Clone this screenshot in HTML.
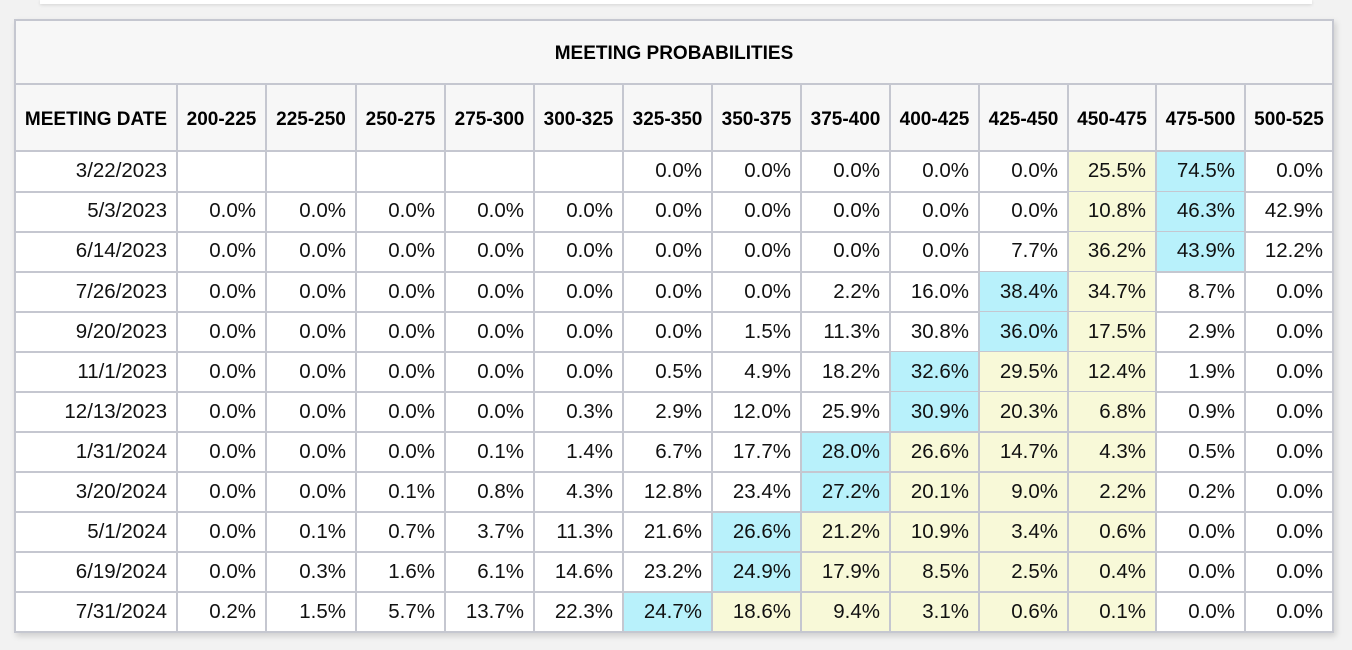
<!DOCTYPE html>
<html><head><meta charset="utf-8"><style>
body{margin:0;background:#f2f2f2;width:1352px;height:650px;overflow:hidden;font-family:"Liberation Sans",Arial,sans-serif;}
#shadow{position:absolute;left:40px;top:0;width:1272px;height:4px;background:#fff;box-shadow:0 1px 3px rgba(0,0,0,.12);}
#tbl{position:absolute;left:14px;top:19px;width:1320px;height:614px;background:#fff;box-shadow:2px 3px 6px rgba(0,0,0,.15);}
.c{position:absolute;box-sizing:border-box;border-right:2px solid #c5c7d0;border-bottom:2px solid #c5c7d0;display:flex;align-items:center;justify-content:flex-end;padding-right:9px;font-size:20.5px;color:#111;}
.h{background:#f7f7f7;font-weight:bold;font-size:19px;justify-content:center;padding:0;color:#000;}
</style></head><body>
<div id="shadow"></div>
<div id="tbl"></div>
<script>
const ranges=["200-225","225-250","250-275","275-300","300-325","325-350","350-375","375-400","400-425","425-450","450-475","475-500","500-525"];
const dates=["3/22/2023","5/3/2023","6/14/2023","7/26/2023","9/20/2023","11/1/2023","12/13/2023","1/31/2024","3/20/2024","5/1/2024","6/19/2024","7/31/2024"];
const probs=[
[null,null,null,null,null,0,0,0,0,0,25.5,74.5,0],
[0,0,0,0,0,0,0,0,0,0,10.8,46.3,42.9],
[0,0,0,0,0,0,0,0,0,7.7,36.2,43.9,12.2],
[0,0,0,0,0,0,0,2.2,16.0,38.4,34.7,8.7,0],
[0,0,0,0,0,0,1.5,11.3,30.8,36.0,17.5,2.9,0],
[0,0,0,0,0,0.5,4.9,18.2,32.6,29.5,12.4,1.9,0],
[0,0,0,0,0.3,2.9,12.0,25.9,30.9,20.3,6.8,0.9,0],
[0,0,0,0.1,1.4,6.7,17.7,28.0,26.6,14.7,4.3,0.5,0],
[0,0,0.1,0.8,4.3,12.8,23.4,27.2,20.1,9.0,2.2,0.2,0],
[0,0.1,0.7,3.7,11.3,21.6,26.6,21.2,10.9,3.4,0.6,0,0],
[0,0.3,1.6,6.1,14.6,23.2,24.9,17.9,8.5,2.5,0.4,0,0],
[0.2,1.5,5.7,13.7,22.3,24.7,18.6,9.4,3.1,0.6,0.1,0,0]];
const currentIdx=10;
const T=document.getElementById('tbl');
const colX=[0,164,253,343,432,521,610,699,788,877,966,1055,1143,1232,1320];
const rowH=40.08;
function cell(x,y,w,h,txt,cls,bg,name){
  const d=document.createElement('div');
  d.className='c '+(cls||'');
  d.style.left=x+'px';d.style.top=y+'px';d.style.width=w+'px';d.style.height=h+'px';
  if(bg)d.style.background=bg;
  d.textContent=txt;
  
  
  T.appendChild(d);return d;
}
const t=cell(0,0,1320,66,'MEETING PROBABILITIES','h',null,'table-title');
t.style.borderTop='2px solid #c5c7d0';t.style.borderLeft='2px solid #c5c7d0';t.style.paddingTop='4px';
const hd=cell(0,66,164,67,'MEETING DATE','h',null,'meeting-date-header');hd.style.borderLeft='2px solid #c5c7d0';hd.style.paddingTop='4px';
ranges.forEach((r,i)=>{const h=cell(colX[i+1],66,colX[i+2]-colX[i+1],67,r,'h',null,'range-header-'+r);h.style.paddingTop='4px';});
dates.forEach((dt,ri)=>{
  const y=133+ri*rowH;
  const dc=cell(0,y,164,rowH+0.5,dt,'',null,'date-cell');dc.style.borderLeft='2px solid #c5c7d0';
  const row=probs[ri];
  let mx=-1,mi=-1;row.forEach((v,i)=>{if(v!==null&&v>mx){mx=v;mi=i;}});
  row.forEach((v,i)=>{
    let bg=null;
    if(i===mi)bg='#b8f1fb';
    else if(mi<=currentIdx && i>mi && i<=currentIdx)bg='#f8f9d8';
    else if(mi>currentIdx && i>=currentIdx && i<mi)bg='#f8f9d8';
    cell(colX[i+1],y,colX[i+2]-colX[i+1],rowH+0.5,v===null?'':v.toFixed(1)+'%','',bg,'prob-cell');
  });
});
</script>
</body></html>
